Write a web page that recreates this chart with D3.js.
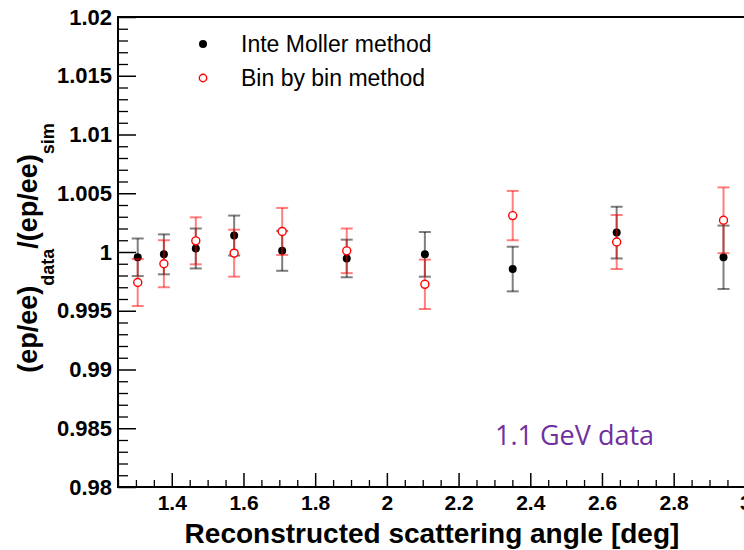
<!DOCTYPE html>
<html>
<head>
<meta charset="utf-8">
<script src="https://cdn.jsdelivr.net/npm/d3@7"></script>
<style>
html,body{margin:0;padding:0;background:#fff;}
svg{display:block;}
</style>
</head>
<body>
<svg id="chart" width="744" height="550"></svg>
<script>
// ---- data ----
const angles = [1.305, 1.378, 1.467, 1.574, 1.708, 1.888, 2.106, 2.351, 2.641, 2.939];
const inteMoller = [0.99955, 0.9998, 1.0003, 1.0014, 1.0001, 0.99945, 0.9998, 0.99855, 1.00165, 0.99955];
const inteMollerErr = [0.0016, 0.0017, 0.0017, 0.0017, 0.0017, 0.0016, 0.0019, 0.0019, 0.0022, 0.0027];
const binByBin = [0.9974, 0.9990, 1.00095, 0.9999, 1.00175, 1.0001, 0.99725, 1.0031, 1.00085, 1.0027];
const binByBinErr = [0.0020, 0.0020, 0.0020, 0.0020, 0.0020, 0.0019, 0.0021, 0.0021, 0.0023, 0.0028];
const xTicks = [1.4, 1.6, 1.8, 2.0, 2.2, 2.4, 2.6, 2.8, 3.0];
const yTicks = [0.98, 0.985, 0.99, 0.995, 1.0, 1.005, 1.01, 1.015, 1.02];
const seriesNames = ["Inte Moller method", "Bin by bin method"];
const annotation = "1.1 GeV data";

// ---- layout ----
const svg = d3.select("#chart");
const plotLeft = 118, plotTop = 17, plotBottom = 487;
const x = d3.scaleLinear().domain([1.25, 3.05]).range([plotLeft, plotLeft + 1.8 * 358.5]);
const y = d3.scaleLinear().domain([0.98, 1.02]).range([plotBottom, plotTop]);
const axisFont = "'Liberation Sans', Arial, Helvetica, sans-serif";

// minor ticks
const xMinor = d3.range(1.25, 3.051, 0.05).map(v => +v.toFixed(2)).filter(v => !xTicks.some(t => Math.abs(t - v) < 1e-6));
const yMinor = d3.range(0.98, 1.0201, 0.001).map(v => +v.toFixed(3)).filter(v => !yTicks.some(t => Math.abs(t - v) < 1e-6));

const gx = svg.append("g").attr("transform", `translate(0,${plotBottom})`)
  .call(d3.axisBottom(x).tickValues(xTicks).tickSize(-14).tickSizeOuter(0).tickPadding(8)
    .tickFormat(d => String(+d.toFixed(1))));
gx.select(".domain").remove();
gx.selectAll(".tick line").attr("stroke", "#000").attr("stroke-width", 1.5);
gx.selectAll(".tick text").attr("font-family", axisFont).attr("font-weight", "bold").attr("font-size", 21).attr("fill", "#000");

const gxm = svg.append("g").attr("transform", `translate(0,${plotBottom})`)
  .call(d3.axisBottom(x).tickValues(xMinor).tickSize(-7).tickSizeOuter(0).tickFormat(""));
gxm.select(".domain").remove();
gxm.selectAll(".tick line").attr("stroke", "#000").attr("stroke-width", 1.3);

const gy = svg.append("g").attr("transform", `translate(${plotLeft},0)`)
  .call(d3.axisLeft(y).tickValues(yTicks).tickSize(-18).tickSizeOuter(0).tickPadding(6)
    .tickFormat(d => String(+d.toFixed(3))));
gy.select(".domain").remove();
gy.selectAll(".tick line").attr("stroke", "#000").attr("stroke-width", 1.5);
gy.selectAll(".tick text").attr("font-family", axisFont).attr("font-weight", "bold").attr("font-size", 22).attr("fill", "#000");

const gym = svg.append("g").attr("transform", `translate(${plotLeft},0)`)
  .call(d3.axisLeft(y).tickValues(yMinor).tickSize(-10).tickSizeOuter(0).tickFormat(""));
gym.select(".domain").remove();
gym.selectAll(".tick line").attr("stroke", "#000").attr("stroke-width", 1.3);

// frame
const frame = svg.append("g").attr("stroke", "#000").attr("stroke-width", 2).attr("fill", "none");
frame.append("line").attr("x1", plotLeft).attr("x2", plotLeft).attr("y1", plotTop).attr("y2", plotBottom);
frame.append("line").attr("x1", plotLeft - 1).attr("x2", 760).attr("y1", plotBottom).attr("y2", plotBottom);
frame.append("line").attr("x1", plotLeft - 1).attr("x2", 760).attr("y1", plotTop).attr("y2", plotTop);

// data series
function drawErrors(vals, errs, color) {
  const g = svg.append("g").attr("stroke", color).attr("stroke-width", 2).attr("fill", "none");
  vals.forEach((v, i) => {
    const cx = x(angles[i]);
    const y1 = y(v + errs[i]), y2 = y(v - errs[i]);
    g.append("line").attr("x1", cx).attr("x2", cx).attr("y1", y1).attr("y2", y2);
    g.append("line").attr("x1", cx - 6).attr("x2", cx + 6).attr("y1", y1).attr("y2", y1);
    g.append("line").attr("x1", cx - 6).attr("x2", cx + 6).attr("y1", y2).attr("y2", y2);
  });
}
drawErrors(inteMoller, inteMollerErr, "rgba(0,0,0,0.5)");
svg.append("g").selectAll("circle").data(inteMoller).join("circle")
  .attr("cx", (d, i) => x(angles[i])).attr("cy", d => y(d)).attr("r", 4).attr("fill", "#000");
drawErrors(binByBin, binByBinErr, "rgba(255,0,0,0.5)");
svg.append("g").selectAll("circle").data(binByBin).join("circle")
  .attr("cx", (d, i) => x(angles[i])).attr("cy", d => y(d)).attr("r", 4)
  .attr("fill", "#fff").attr("stroke", "#ff0000").attr("stroke-width", 1.4);

// legend
svg.append("circle").attr("cx", 203).attr("cy", 44).attr("r", 4).attr("fill", "#000");
svg.append("circle").attr("cx", 203).attr("cy", 78).attr("r", 3.7).attr("fill", "#fff").attr("stroke", "#ff0000").attr("stroke-width", 1.4);
svg.append("text").attr("x", 241).attr("y", 52).attr("font-family", axisFont).attr("font-size", 23).attr("fill", "#000").text(seriesNames[0]);
svg.append("text").attr("x", 241).attr("y", 86).attr("font-family", axisFont).attr("font-size", 23).attr("fill", "#000").text(seriesNames[1]);

// annotation
svg.append("text").attr("x", 495).attr("y", 445).attr("font-family", "'Open Sans', sans-serif")
  .attr("font-size", 27).attr("fill", "#7030A0").text(annotation);

// axis titles
svg.append("text").attr("x", 432).attr("y", 543).attr("text-anchor", "middle")
  .attr("font-family", axisFont).attr("font-weight", "bold").attr("font-size", 28).attr("fill", "#000")
  .text("Reconstructed scattering angle [deg]");

const yt = svg.append("text").attr("transform", "translate(37,248) rotate(-90)").attr("text-anchor", "middle")
  .attr("font-family", axisFont).attr("font-weight", "bold").attr("font-size", 27).attr("fill", "#000");
yt.append("tspan").text("(ep/ee)");
yt.append("tspan").attr("font-size", 18).attr("dy", 17).text("data");
yt.append("tspan").attr("dy", -17).text("/(ep/ee)");
yt.append("tspan").attr("font-size", 18).attr("dy", 17).text("sim");
</script>
</body>
</html>
